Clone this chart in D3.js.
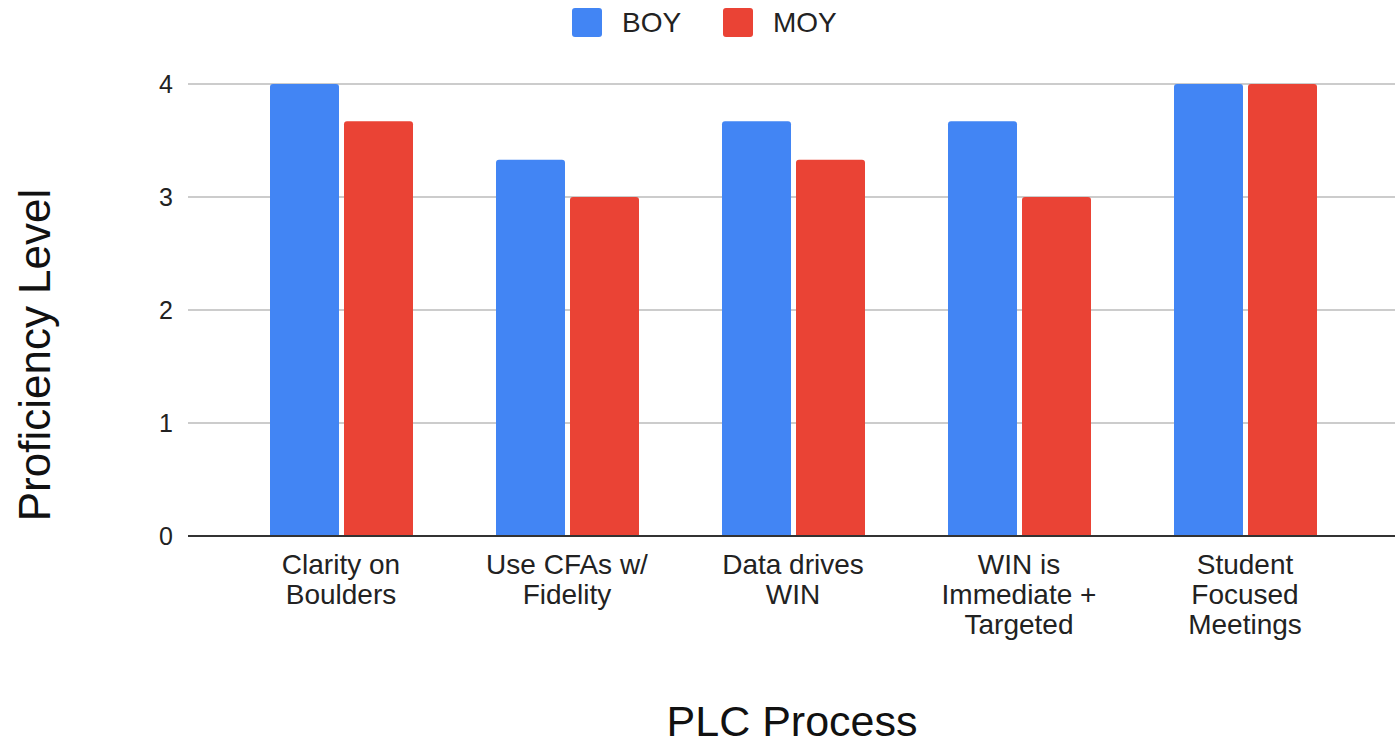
<!DOCTYPE html>
<html>
<head>
<meta charset="utf-8">
<script src="https://cdn.jsdelivr.net/npm/d3@7"></script>
<style>
  html, body { margin: 0; padding: 0; background: #fff; }
  svg { display: block; font-family: "Liberation Sans", Arial, sans-serif; }
</style>
</head>
<body>
<svg id="chart" width="1395" height="746"></svg>
<script>
const categories = [
  ["Clarity on", "Boulders"],
  ["Use CFAs w/", "Fidelity"],
  ["Data drives", "WIN"],
  ["WIN is", "Immediate +", "Targeted"],
  ["Student", "Focused", "Meetings"]
];
const seriesNames = ["BOY", "MOY"];
const boyValues = [4, 3.33, 3.67, 3.67, 4];
const moyValues = [3.67, 3, 3.33, 3, 4];
const yTicks = [0, 1, 2, 3, 4];
const colors = ["#4285F4", "#EA4335"];

const svg = d3.select("#chart");
const catKeys = categories.map((c, i) => i);

const x = d3.scaleBand().domain(catKeys).range([228, 1358]).padding(0);
const x1 = d3.scaleBand().domain(seriesNames).range([42, 185]).paddingInner(5 / 74).paddingOuter(0);
const y = d3.scaleLinear().domain([0, 4]).range([536, 84]);

// gridlines
svg.append("g").selectAll("line").data(yTicks.filter(d => d !== 0)).join("line")
  .attr("x1", 188).attr("x2", 1395)
  .attr("y1", d => y(d)).attr("y2", d => y(d))
  .attr("stroke", "#cccccc").attr("stroke-width", 2);

// y tick labels
svg.append("g").selectAll("text").data(yTicks).join("text")
  .attr("x", 173).attr("y", d => y(d)).attr("dy", "0.36em")
  .attr("text-anchor", "end").attr("font-size", 25).attr("fill", "#222")
  .text(d => d);

// bars
const data = [];
catKeys.forEach(i => {
  data.push({ c: i, s: "BOY", v: boyValues[i], col: colors[0] });
  data.push({ c: i, s: "MOY", v: moyValues[i], col: colors[1] });
});
function barPath(x0, w, yTop, yBot, r) {
  return `M${x0},${yBot} L${x0},${yTop + r} Q${x0},${yTop} ${x0 + r},${yTop} L${x0 + w - r},${yTop} Q${x0 + w},${yTop} ${x0 + w},${yTop + r} L${x0 + w},${yBot} Z`;
}
svg.append("g").selectAll("path").data(data).join("path")
  .attr("d", d => barPath(x(d.c) + x1(d.s), x1.bandwidth(), y(d.v), y(0), 3))
  .attr("fill", d => d.col);

// baseline
svg.append("line").attr("x1", 188).attr("x2", 1395).attr("y1", y(0)).attr("y2", y(0))
  .attr("stroke", "#333").attr("stroke-width", 2);

// x labels
const xl = svg.append("g").selectAll("text").data(catKeys).join("text")
  .attr("x", d => x(d) + x.bandwidth() / 2).attr("y", 574)
  .attr("text-anchor", "middle").attr("font-size", 28).attr("fill", "#222");
xl.each(function(d) {
  const t = d3.select(this);
  categories[d].forEach((line, j) => {
    t.append("tspan").attr("x", x(d) + x.bandwidth() / 2).attr("dy", j === 0 ? 0 : 30).text(line);
  });
});

// legend
const legend = svg.append("g");
const legendX = [572, 723];
seriesNames.forEach((s, i) => {
  legend.append("rect").attr("x", legendX[i]).attr("y", 8).attr("width", 30).attr("height", 29)
    .attr("rx", 3).attr("fill", colors[i]);
  legend.append("text").attr("x", legendX[i] + 50).attr("y", 32)
    .attr("font-size", 28).attr("fill", "#222").text(s);
});

// axis titles
svg.append("text").attr("x", 792).attr("y", 736).attr("text-anchor", "middle")
  .attr("font-size", 43).attr("fill", "#111").text("PLC Process");
svg.append("text").attr("transform", "translate(50,355) rotate(-90)")
  .attr("text-anchor", "middle").attr("font-size", 44).attr("fill", "#111").text("Proficiency Level");
</script>
</body>
</html>
